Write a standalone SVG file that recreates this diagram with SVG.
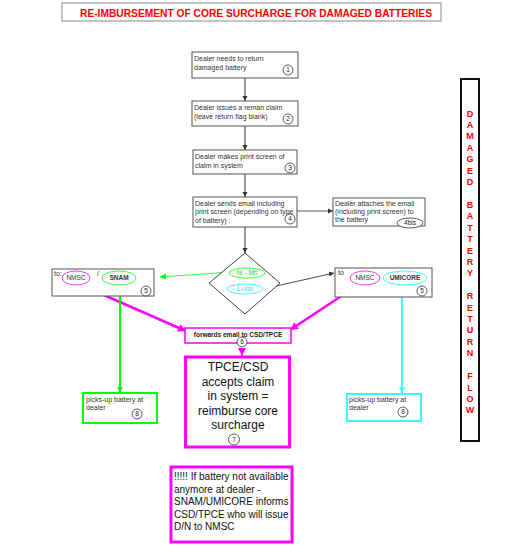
<svg xmlns="http://www.w3.org/2000/svg" width="505" height="554" viewBox="0 0 505 554">
<defs>
<style>
.box{fill:#fff;stroke:#555;stroke-width:1}
.t{font-family:"Liberation Sans",Arial,sans-serif;font-size:7px;fill:#333}
.num{font-family:"Liberation Sans",Arial,sans-serif;font-size:6.5px;fill:#222;text-anchor:middle}
.nc{fill:#fff;stroke:#333;stroke-width:0.8}
.con{fill:none;stroke:#555;stroke-width:1.2}
.side{font-family:"Liberation Sans",Arial,sans-serif;font-size:9px;font-weight:bold;text-anchor:middle;fill:#f00}
</style>
<marker id="ag" markerWidth="6" markerHeight="6" refX="5" refY="3" orient="auto" markerUnits="userSpaceOnUse"><path d="M0,0.5 L5,3 L0,5.5z" fill="#333"/></marker>
<marker id="am" markerWidth="10" markerHeight="10" refX="8" refY="5" orient="auto" markerUnits="userSpaceOnUse"><path d="M0,1 L8,5 L0,9z" fill="#f0f"/></marker>
<marker id="agr" markerWidth="8" markerHeight="8" refX="6" refY="4" orient="auto" markerUnits="userSpaceOnUse"><path d="M0,1 L6,4 L0,7z" fill="#0f0"/></marker>
<marker id="acy" markerWidth="8" markerHeight="8" refX="6" refY="4" orient="auto" markerUnits="userSpaceOnUse"><path d="M0,1 L6,4 L0,7z" fill="#3ff"/></marker>
</defs>
<rect width="505" height="554" fill="#fff"/>

<g id="title">
<rect x="62" y="3" width="379" height="18" fill="#fff" stroke="#888" stroke-width="1"/>
<text x="256" y="16.5" text-anchor="middle" font-family="Liberation Sans,Arial,sans-serif" font-size="11" font-weight="bold" fill="#f00" textLength="352" lengthAdjust="spacingAndGlyphs">RE-IMBURSEMENT OF CORE SURCHARGE FOR DAMAGED BATTERIES</text>
</g>

<g id="connectors">
<line class="con" x1="245" y1="78" x2="245" y2="101" marker-end="url(#ag)"/>
<line class="con" x1="245" y1="126" x2="245" y2="150" marker-end="url(#ag)"/>
<line class="con" x1="245" y1="174" x2="245" y2="197" marker-end="url(#ag)"/>
<line class="con" x1="297" y1="211" x2="333" y2="211" marker-end="url(#ag)"/>
<line class="con" x1="245" y1="227" x2="245" y2="253" marker-end="url(#ag)"/>
<line x1="231" y1="272" x2="160" y2="277" stroke="#3f3" stroke-width="1.2" marker-end="url(#agr)"/>
<line class="con" x1="263" y1="289" x2="334" y2="273" marker-end="url(#ag)"/>
<line x1="81" y1="285" x2="186" y2="331" stroke="#f0f" stroke-width="2.5" marker-end="url(#am)"/>
<line x1="358" y1="285" x2="290" y2="330" stroke="#f0f" stroke-width="2.5" marker-end="url(#am)"/>
<line x1="242" y1="348" x2="242" y2="356" stroke="#f0f" stroke-width="1.5" marker-end="url(#am)"/>
<line x1="120" y1="285" x2="120" y2="393" stroke="#0f0" stroke-width="2" marker-end="url(#agr)"/>
<line x1="402" y1="285" x2="402" y2="393" stroke="#3ff" stroke-width="2" marker-end="url(#acy)"/>
</g>

<g id="n1">
<rect class="box" x="192" y="52" width="106" height="26"/>
<text class="t" x="194" y="61">Dealer needs to return</text>
<text class="t" x="194" y="69.5">damaged battery</text>
<circle class="nc" cx="288" cy="70" r="5"/><text class="num" x="288" y="72.3">1</text>
</g>

<g id="n2">
<rect class="box" x="192" y="101" width="106" height="25"/>
<text class="t" x="194" y="110">Dealer issues a reman claim</text>
<text class="t" x="194" y="118.5">(leave return flag blank)</text>
<circle class="nc" cx="288" cy="119" r="5"/><text class="num" x="288" y="121.3">2</text>
</g>

<g id="n3">
<rect class="box" x="193" y="150" width="104" height="24"/>
<text class="t" x="195" y="159">Dealer makes print screen of</text>
<text class="t" x="195" y="167.5">claim in system</text>
<circle class="nc" cx="290" cy="168" r="5"/><text class="num" x="290" y="170.3">3</text>
</g>

<g id="n4">
<rect class="box" x="193" y="197" width="104" height="30"/>
<text class="t" x="195" y="205.5">Dealer sends email including</text>
<text class="t" x="195" y="214">print screen (depending on type</text>
<text class="t" x="195" y="222.5">of battery) :</text>
<circle class="nc" cx="290" cy="219" r="5"/><text class="num" x="290" y="221.3">4</text>
</g>

<g id="n4bis">
<rect class="box" x="333" y="198" width="92" height="28"/>
<text class="t" x="335" y="206">Dealer attaches the email</text>
<text class="t" x="335" y="214">(including print screen) to</text>
<text class="t" x="335" y="222">the battery</text>
<ellipse class="nc" cx="410" cy="223" rx="13" ry="5"/><text class="num" x="410" y="225.3">4bis</text>
</g>

<g id="decision">
<polygon points="245,253 280,283 245,314 209,283" fill="#fff" stroke="#444" stroke-width="1"/>
<ellipse cx="247" cy="273" rx="18" ry="5" fill="#fff" stroke="#3f3" stroke-width="1"/>
<text x="247" y="275.3" text-anchor="middle" font-family="Liberation Sans,Arial,sans-serif" font-size="6.5" fill="#3c3">Ni - Mh</text>
<ellipse cx="245" cy="289" rx="18" ry="5" fill="#fff" stroke="#3ff" stroke-width="1"/>
<text x="245" y="291.3" text-anchor="middle" font-family="Liberation Sans,Arial,sans-serif" font-size="6.5" fill="#3cf">Li-ion</text>
</g>

<g id="n5left">
<rect class="box" x="52" y="269" width="102" height="27"/>
<text class="t" x="54" y="276" font-size="6">to:</text>
<ellipse cx="76" cy="278" rx="14" ry="7" fill="#fff" stroke="#f3f" stroke-width="1"/>
<text x="76" y="280.3" text-anchor="middle" font-family="Liberation Sans,Arial,sans-serif" font-size="6.5" fill="#333">NMSC</text>
<text class="t" x="97" y="276">/</text>
<ellipse cx="119" cy="278" rx="17" ry="7" fill="#fff" stroke="#3f3" stroke-width="1"/>
<text x="119" y="280.3" text-anchor="middle" font-family="Liberation Sans,Arial,sans-serif" font-size="6.5" font-weight="bold" fill="#333">SNAM</text>
<circle class="nc" cx="146" cy="291" r="5"/><text class="num" x="146" y="293.3">5</text>
</g>

<g id="n5right">
<rect class="box" x="335" y="268" width="97" height="29"/>
<text class="t" x="338" y="275" font-size="6">to</text>
<ellipse cx="365" cy="278" rx="15" ry="7" fill="#fff" stroke="#f3f" stroke-width="1"/>
<text x="365" y="280.3" text-anchor="middle" font-family="Liberation Sans,Arial,sans-serif" font-size="6.5" fill="#333">NMSC</text>
<ellipse cx="405" cy="278" rx="22" ry="7" fill="#fff" stroke="#3ff" stroke-width="1"/>
<text x="405" y="280.3" text-anchor="middle" font-family="Liberation Sans,Arial,sans-serif" font-size="6.5" font-weight="bold" fill="#333">UMICORE</text>
<circle class="nc" cx="422" cy="291" r="5"/><text class="num" x="422" y="293.3">5</text>
</g>

<g id="n6">
<rect x="185" y="328" width="106" height="15" fill="#fff" stroke="#f0f" stroke-width="1.5"/>
<text x="238" y="336.5" text-anchor="middle" font-family="Liberation Sans,Arial,sans-serif" font-size="6.5" font-weight="bold" fill="#222">forwards email to CSD/TPCE</text>
<circle class="nc" cx="242" cy="342" r="5"/><text class="num" x="242" y="344.3">6</text>
</g>

<g id="n7">
<rect x="185.5" y="357" width="104" height="90" fill="#fff" stroke="#f0f" stroke-width="3"/>
<g font-family="Liberation Sans,Arial,sans-serif" font-size="12" fill="#111" text-anchor="middle">
<text x="238" y="371">TPCE/CSD</text>
<text x="238" y="385.5">accepts claim</text>
<text x="238" y="400">in system =</text>
<text x="238" y="414.5">reimburse core</text>
<text x="238" y="429">surcharge</text>
</g>
<circle class="nc" cx="234" cy="439.5" r="5.5"/><text class="num" x="234" y="441.8">7</text>
</g>

<g id="n8left">
<rect x="83" y="393" width="74" height="30" fill="#fff" stroke="#0f0" stroke-width="2"/>
<text class="t" x="86" y="401.5">picks-up battery at</text>
<text class="t" x="86" y="409.5">dealer</text>
<circle class="nc" cx="137" cy="414" r="5"/><text class="num" x="137" y="416.3">8</text>
</g>

<g id="n8right">
<rect x="347" y="394" width="74" height="27" fill="#fff" stroke="#3ff" stroke-width="2"/>
<text class="t" x="349" y="402">picks-up battery at</text>
<text class="t" x="349" y="410">dealer</text>
<circle class="nc" cx="403" cy="412" r="5"/><text class="num" x="403" y="414.3">8</text>
</g>

<g id="note">
<rect x="171" y="467" width="121" height="75" fill="#fff" stroke="#f0f" stroke-width="3"/>
<g font-family="Liberation Sans,Arial,sans-serif" font-size="10" fill="#111">
<text x="174" y="480">!!!!! If battery not available</text>
<text x="174" y="492.5">anymore at dealer -</text>
<text x="174" y="505">SNAM/UMICORE informs</text>
<text x="174" y="517.5">CSD/TPCE who will issue</text>
<text x="174" y="530">D/N to NMSC</text>
</g>
</g>

<g id="sidebar">
<rect x="461" y="79" width="18" height="362" fill="#fff" stroke="#111" stroke-width="2"/>
<text class="side" x="470" y="116.5">D</text>
<text class="side" x="470" y="128">A</text>
<text class="side" x="470" y="139.4">M</text>
<text class="side" x="470" y="150.8">A</text>
<text class="side" x="470" y="162.2">G</text>
<text class="side" x="470" y="173.6">E</text>
<text class="side" x="470" y="185">D</text>
<text class="side" x="470" y="207.9">B</text>
<text class="side" x="470" y="219.3">A</text>
<text class="side" x="470" y="230.7">T</text>
<text class="side" x="470" y="242.1">T</text>
<text class="side" x="470" y="253.5">E</text>
<text class="side" x="470" y="264.9">R</text>
<text class="side" x="470" y="276.3">Y</text>
<text class="side" x="470" y="299.2">R</text>
<text class="side" x="470" y="310.6">E</text>
<text class="side" x="470" y="322">T</text>
<text class="side" x="470" y="333.4">U</text>
<text class="side" x="470" y="344.8">R</text>
<text class="side" x="470" y="356.2">N</text>
<text class="side" x="470" y="379.1">F</text>
<text class="side" x="470" y="390.5" fill="#111">L</text>
<text class="side" x="470" y="401.9" fill="#111">O</text>
<text class="side" x="470" y="413.3" fill="#111">W</text>
</g>
</svg>
